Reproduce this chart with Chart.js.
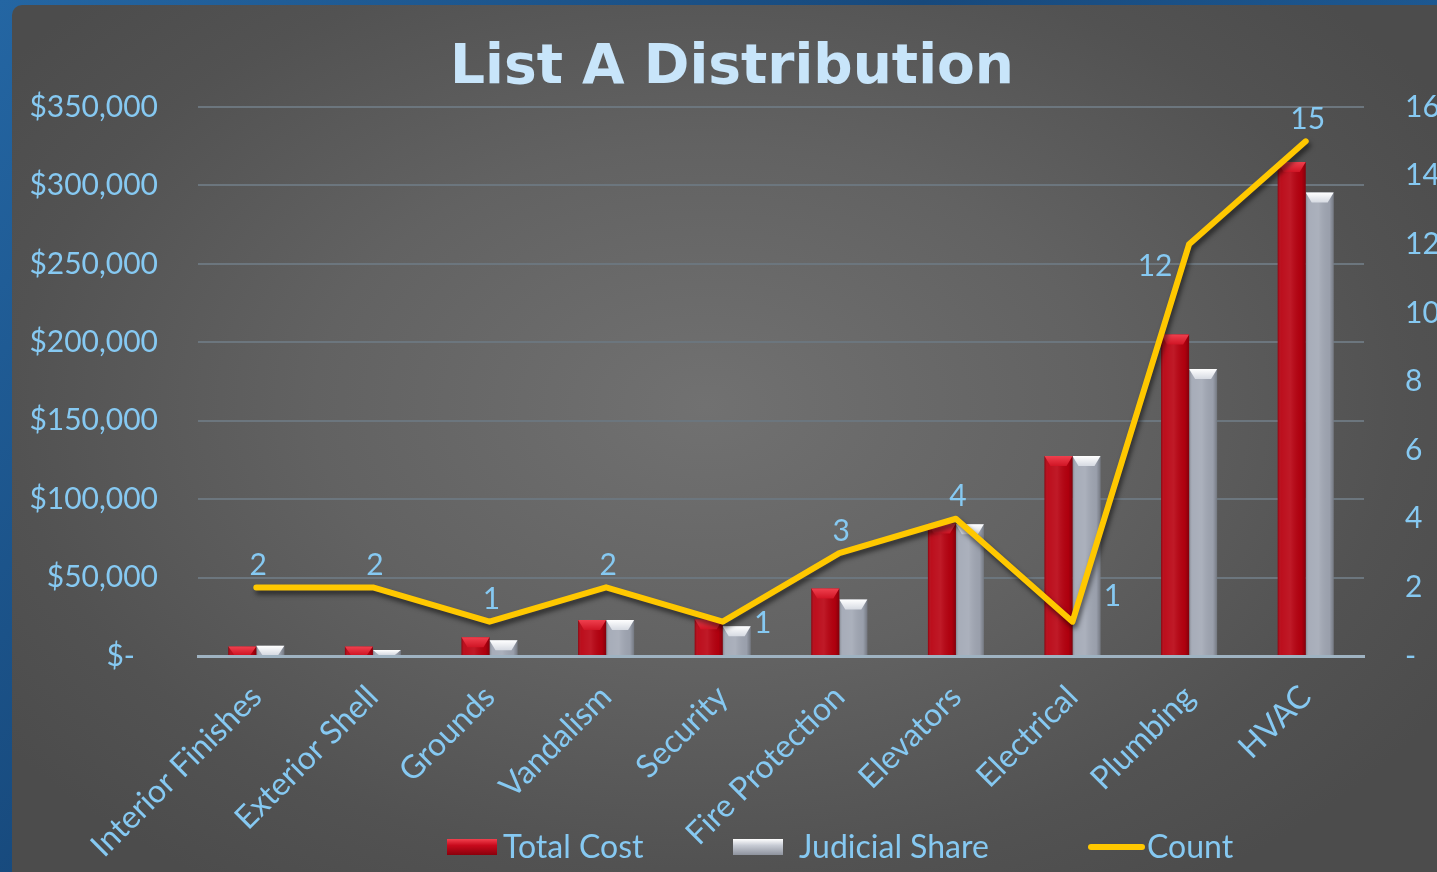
<!DOCTYPE html>
<html>
<head>
<meta charset="utf-8">
<script src="https://cdn.jsdelivr.net/npm/chart.js@4"></script>
<style>
  html, body { margin: 0; padding: 0; width: 1437px; height: 872px; overflow: hidden; }
  body { background: linear-gradient(135deg, #2466a3 0%, #17497c 40%, #1f5d98 70%, #164576 100%); position: relative; }
  #panel { position: absolute; left: 12px; top: 5px; width: 1445px; height: 890px; border-radius: 10px;
    background: radial-gradient(ellipse 60% 65% at 48% 45%, #717171 0%, #626262 45%, #525252 80%, #4c4c4c 100%); }
  #wrap { position: absolute; left: 0; top: 0; width: 1437px; height: 872px; }
</style>
</head>
<body>
<div id="panel"></div>
<div id="wrap"><canvas id="c" width="1437" height="872"></canvas></div>
<script>
const categories = ['Interior Finishes','Exterior Shell','Grounds','Vandalism','Security','Fire Protection','Elevators','Electrical','Plumbing','HVAC'];
const totalCost = [6000, 6000, 12000, 23000, 23500, 43000, 84500, 127500, 205000, 315000];
const judicialShare = [6500, 3800, 10000, 23000, 19000, 36000, 84000, 127500, 183000, 295500];
const counts = [2, 2, 1, 2, 1, 3, 4, 1, 12, 15];
const leftTicks = [0, 50000, 100000, 150000, 200000, 250000, 300000, 350000];
const rightTicks = [0, 2, 4, 6, 8, 10, 12, 14, 16];

const TICK_COLOR = '#86c9f2';
const LABEL_FONT = 'Lato';

// label placement for the Count labels (style only)
const countLabelPlace = ['top','top','top','top','right','top','top','rightUp','left','top'];

const shadowPlugin = {
  id: 'lineShadow',
  beforeDatasetDraw(chart, args) {
    if (chart.data.datasets[args.index].type === 'line') {
      const ctx = chart.ctx;
      ctx.save();
      ctx.shadowColor = 'rgba(0,0,0,0.55)';
      ctx.shadowBlur = 5;
      ctx.shadowOffsetX = 2;
      ctx.shadowOffsetY = 4;
    }
  },
  afterDatasetDraw(chart, args) {
    if (chart.data.datasets[args.index].type === 'line') chart.ctx.restore();
  }
};

const bevelPlugin = {
  id: 'bevel',
  afterDatasetDraw(chart, args) {
    const ds = chart.data.datasets[args.index];
    if (ds.type !== 'bar') return;
    const ctx = chart.ctx;
    const isRed = args.index === 0;
    args.meta.data.forEach(el => {
      const p = el.getProps(['x','y','base','width'], true);
      const left = p.x - p.width / 2, right = p.x + p.width / 2;
      const h = p.base - p.y;
      if (h <= 0) return;
      ctx.save();
      const g = ctx.createLinearGradient(left, 0, right, 0);
      g.addColorStop(0, 'rgba(0,0,0,0.22)');
      g.addColorStop(0.12, 'rgba(255,255,255,0.06)');
      g.addColorStop(0.45, 'rgba(255,255,255,0.10)');
      g.addColorStop(0.85, 'rgba(0,0,0,0.05)');
      g.addColorStop(1, 'rgba(0,0,0,0.28)');
      ctx.fillStyle = g;
      ctx.fillRect(left, p.y, p.width, h);
      const bh = Math.min(10, h);
      const inset = Math.min(6, p.width / 4);
      ctx.beginPath();
      ctx.moveTo(left, p.y);
      ctx.lineTo(right, p.y);
      ctx.lineTo(right - inset, p.y + bh);
      ctx.lineTo(left + inset, p.y + bh);
      ctx.closePath();
      const tg = ctx.createLinearGradient(0, p.y, 0, p.y + bh);
      if (isRed) { tg.addColorStop(0, '#f0404e'); tg.addColorStop(1, '#d01525'); }
      else { tg.addColorStop(0, '#ffffff'); tg.addColorStop(1, '#d6dae2'); }
      ctx.fillStyle = tg;
      ctx.fill();
      ctx.restore();
    });
  }
};

const countLabelPlugin = {
  id: 'countLabels',
  afterDatasetsDraw(chart) {
    const idx = chart.data.datasets.findIndex(d => d.type === 'line');
    const meta = chart.getDatasetMeta(idx);
    const ctx = chart.ctx;
    ctx.save();
    ctx.font = '30px ' + LABEL_FONT;
    ctx.fillStyle = TICK_COLOR;
    ctx.textAlign = 'center';
    ctx.textBaseline = 'middle';
    meta.data.forEach((pt, i) => {
      const v = chart.data.datasets[idx].data[i];
      let x = pt.x, y = pt.y;
      switch (countLabelPlace[i]) {
        case 'right': x += 40; y += 2; break;
        case 'rightUp': x += 40; y -= 25; break;
        case 'left': x -= 34; y += 22; break;
        default: x += 2; y -= 22;
      }
      ctx.fillText(String(v), x, y);
    });
    ctx.restore();
  }
};

const legendXs = [447, 733, 1088];
const customLegend = {
  id: 'customLegend',
  afterDraw(chart) {
    const ctx = chart.ctx;
    const cy = 847;
    ctx.save();
    ctx.font = '32px ' + LABEL_FONT;
    ctx.textBaseline = 'middle';
    ctx.textAlign = 'left';
    chart.data.datasets.forEach((ds, i) => {
      const x0 = legendXs[i];
      let tx;
      if (ds.type === 'line') {
        ctx.strokeStyle = ds.borderColor;
        ctx.lineWidth = 6;
        ctx.lineCap = 'round';
        ctx.beginPath();
        ctx.moveTo(x0 + 3, cy);
        ctx.lineTo(x0 + 54, cy);
        ctx.stroke();
        tx = x0 + 59;
      } else {
        const w = 50, h = 16;
        const g = ctx.createLinearGradient(0, cy - h / 2, 0, cy + h / 2);
        if (i === 0) { g.addColorStop(0, '#f2404e'); g.addColorStop(0.4, '#c80a1c'); g.addColorStop(1, '#8a000c'); }
        else { g.addColorStop(0, '#ffffff'); g.addColorStop(0.4, '#c7cbd4'); g.addColorStop(1, '#8e939e'); }
        ctx.fillStyle = g;
        ctx.fillRect(x0, cy - h / 2, w, h);
        tx = x0 + w + (i === 0 ? 6 : 16);
      }
      ctx.fillStyle = TICK_COLOR;
      ctx.fillText(ds.label, tx, cy + 1);
    });
    ctx.restore();
  }
};

new Chart(document.getElementById('c'), {
  data: {
    labels: categories,
    datasets: [
      { type: 'bar', label: 'Total Cost', data: totalCost, backgroundColor: '#b8000f', yAxisID: 'y', order: 1 },
      { type: 'bar', label: 'Judicial Share', data: judicialShare, backgroundColor: '#a2a8b5', yAxisID: 'y', order: 2 },
      { type: 'line', label: 'Count', data: counts, borderColor: '#FFC800', backgroundColor: '#FFC800', borderWidth: 6,
        pointRadius: 0, tension: 0, borderCapStyle: 'round', borderJoinStyle: 'round', yAxisID: 'y2', order: 0 }
    ]
  },
  options: {
    responsive: false,
    animation: false,
    layout: { padding: { left: 27, right: 0, top: 0, bottom: 0 } },
    datasets: { bar: { categoryPercentage: 0.48, barPercentage: 1.0 } },
    plugins: {
      legend: { display: false },
      tooltip: { enabled: false },
      title: {
        display: true,
        text: 'List A Distribution',
        color: '#c8e5fa',
        font: { family: 'DejaVu Sans', weight: 'bold', size: 55, lineHeight: 1.2 },
        padding: { top: 36, bottom: 5 }
      }
    },
    scales: {
      x: {
        grid: { display: false, drawTicks: false },
        border: { display: true, color: '#9fb3c2', width: 3 },
        ticks: { color: TICK_COLOR, font: { family: LABEL_FONT, size: 32 }, maxRotation: 45, minRotation: 45, autoSkip: false, padding: 22 },
        afterFit(s) { s.height = 216; }
      },
      y: {
        position: 'left',
        min: 0, max: 350000,
        afterBuildTicks(s) { s.ticks = leftTicks.map(v => ({ value: v })); },
        grid: { color: '#6c767e', lineWidth: 2, drawTicks: false },
        border: { display: false },
        ticks: {
          color: TICK_COLOR, font: { family: LABEL_FONT, size: 30 }, padding: 40,
          callback: v => v === 0 ? '$-   ' : '$' + v.toLocaleString('en-US')
        },
        afterFit(s) { s.width = 171; }
      },
      y2: {
        position: 'right',
        min: 0, max: 16,
        afterBuildTicks(s) { s.ticks = rightTicks.map(v => ({ value: v })); },
        grid: { drawOnChartArea: false, drawTicks: false },
        border: { display: false },
        ticks: {
          color: TICK_COLOR, font: { family: LABEL_FONT, size: 30 }, padding: 41,
          callback: v => v === 0 ? '-' : String(v)
        },
        afterFit(s) { s.width = 73; }
      }
    }
  },
  plugins: [shadowPlugin, bevelPlugin, countLabelPlugin, customLegend]
});
</script>
</body>
</html>
